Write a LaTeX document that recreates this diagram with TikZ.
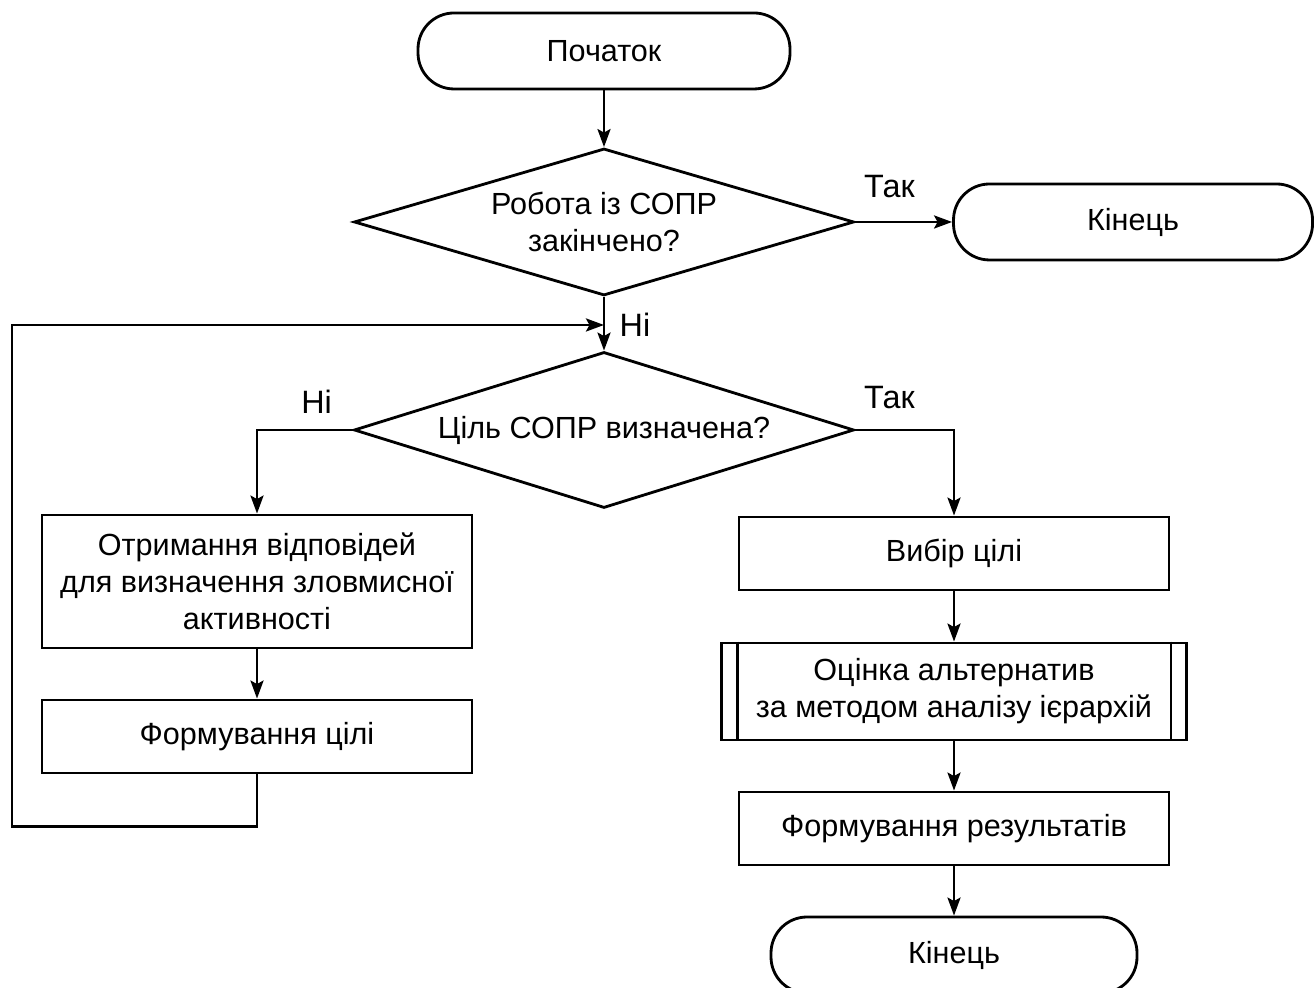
\documentclass[tikz,border=0pt]{standalone}
\usepackage{fontspec}
\setmainfont{Liberation Sans}
\usetikzlibrary{arrows.meta,positioning,calc,shapes.geometric,shapes.misc}
\tikzset{
  >={Stealth[length=1.8mm,width=1.3mm,inset=0.35mm]},
  every node/.append style={font=\fontsize{8.7}{10.5}\selectfont},
  % blocks
  term/.style={draw,line width=0.8pt,rounded corners=3.6mm,inner sep=0pt,
               minimum width=#1,minimum height=7.6mm,align=center},
  term/.default=37mm,
  proc/.style={draw,line width=0.8pt,inner sep=0pt,minimum width=43mm,
               minimum height=7.3mm,align=center},
  decis/.style={draw,line width=0.8pt,diamond,aspect=3.3,inner sep=0pt,
                minimum width=50mm,minimum height=#1,align=center},
  predef/.style={proc,minimum width=46.5mm,minimum height=9.7mm},
  lnk/.style={line width=0.8pt},
  arr/.style={lnk,->},
  lbl/.style={inner sep=1pt,font=\fontsize{9.2}{11}\selectfont},
}
\begin{document}
\begin{tikzpicture}
  \useasboundingbox (0,0) rectangle (13.14,9.88);
  \node[term=37.2mm] (start) at (6.04,9.37) {Початок};
  \node[decis=14.7mm] (q1) at (6.04,7.66) {Робота із СОПР\\закінчено?};
  \node[term=35.9mm] (fin1) at (11.33,7.66) {Кінець};
  \coordinate (join) at (6.04,6.63);
  \node[decis=15.6mm] (q2) at (6.04,5.58) {Ціль СОПР визначена?};
  \node[proc,minimum height=13.3mm] (ans) at (2.57,4.065)
       {Отримання відповідей\\для визначення зловмисної\\активності};
  \node[proc] (form) at (2.57,2.515) {Формування цілі};
  \node[proc] (pick) at (9.54,4.345) {Вибір цілі};
  \node[predef] (ahp) at (9.54,2.965) {Оцінка альтернатив\\за методом аналізу ієрархій};
  \draw[lnk] ($(ahp.north west)+(0.17,0)$) -- ($(ahp.south west)+(0.17,0)$);
  \draw[lnk] ($(ahp.north east)+(-0.17,0)$) -- ($(ahp.south east)+(-0.17,0)$);
  \node[proc] (res) at (9.54,1.595) {Формування результатів};
  \node[term=36.6mm] (fin2) at (9.54,0.33) {Кінець};

  % labels
  \node[lbl] (yes1) at ($(q1.east)+(0.34,0.35)$) {Так};
  \node[lbl] (no1) at ($(join)+(0.31,0)$) {Ні};
  \node[lbl] (no2) at ($(q2.west)+(-0.36,0.28)$) {Ні};
  \node[lbl] (yes2) at ($(q2.east)+(0.34,0.32)$) {Так};

  \draw[arr] (start) -- (q1);
  \draw[arr] (q1.east) -- (fin1.west);
  \draw[arr] (q1.south) -- (q2.north);
  \draw[arr] (q2.west) -| (ans.north);
  \draw[arr] (ans) -- (form);
  \draw[arr] (q2.east) -| (pick.north);
  \draw[arr] (pick) -- (ahp);
  \draw[arr] (ahp) -- (res);
  \draw[arr] (res) -- (fin2);
  \draw[arr] (form.south) -- ++(0,-0.52) -| (0.12,6.63) -- (join);
\end{tikzpicture}
\end{document}
